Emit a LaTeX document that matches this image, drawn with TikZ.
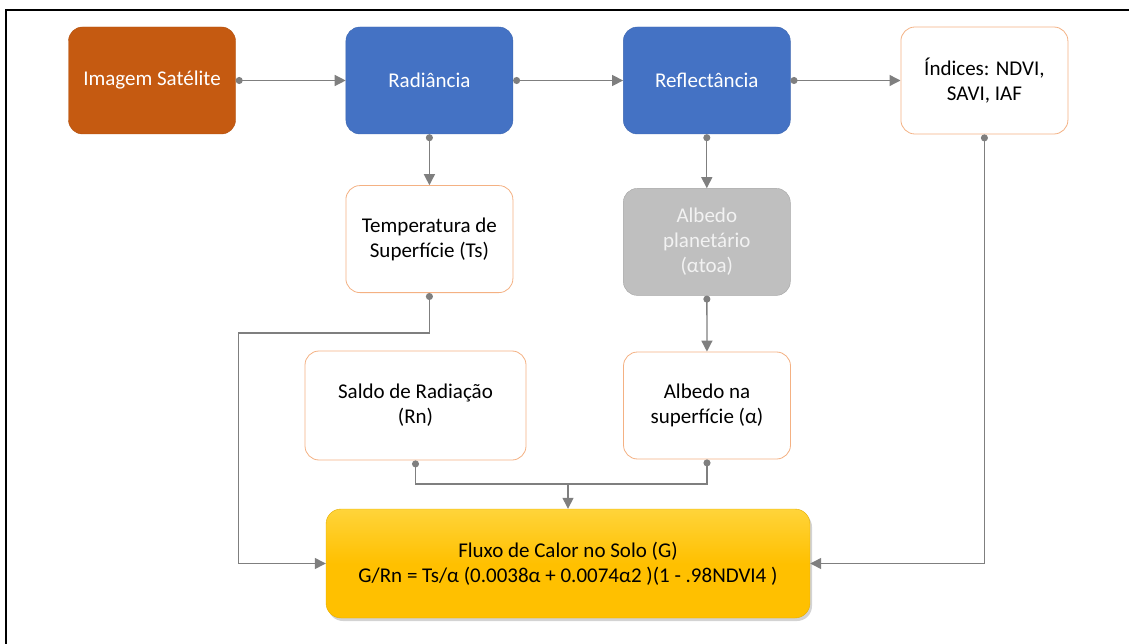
\documentclass[tikz,border=0pt]{standalone}
\usepackage{fontspec}
\setmainfont{Carlito}
\usetikzlibrary{positioning, arrows.meta, shadows}

\definecolor{laranja}{HTML}{C55A11}
\definecolor{azul}{HTML}{4472C4}
\definecolor{cinza}{HTML}{BFBFBF}
\definecolor{bordacinza}{HTML}{A5A5A5}
\definecolor{borda}{HTML}{F4B183}
\definecolor{seta}{HTML}{7F7F7F}
\definecolor{ouro}{HTML}{FFC000}
\definecolor{ourocl}{HTML}{FFD43A}

\begin{document}
\begin{tikzpicture}[x=1pt, y=-1pt, node distance = 110pt,
    caixa/.style={rectangle, rounded corners=14pt, minimum width=167pt,
      minimum height=107pt, align=center, inner sep=4pt,
      font=\fontsize{21}{25}\selectfont},
    cheia/.style={caixa, fill=#1, draw=#1!90!black, text=white},
    vazia/.style={caixa, fill=white, draw=borda, line width=0.8pt, text=black},
    linha/.style={draw=seta, line width=1.3pt, {Circle[length=7pt]}-},
    conector/.style={linha, {Circle[length=7pt]}-{Triangle[length=11pt, width=11pt]}},
    chegada/.style={draw=seta, line width=1.3pt, -{Triangle[length=11pt, width=11pt]}}]

  \useasboundingbox (0,0) rectangle (1129,644);
  \draw[line width=1.2pt] (1129,10) -- (6,10) -- (6,644);

  % linha de cima
  \node[cheia=laranja] (img) at (152,80.5) {Imagem Satélite};
  \node[cheia=azul, right=of img] (rad) {Radiância};
  \node[cheia=azul, right=of rad] (refl) {Reflectância};
  \node[vazia, right=of refl] (ind) {Índices: NDVI,\\SAVI, IAF};

  % coluna do meio
  \node[vazia, below=51pt of rad] (temp) {Temperatura de\\Superfície (Ts)};
  \node[caixa, fill=cinza, draw=bordacinza, text=white!95!black,
        below=54pt of refl] (albplan) {Albedo\\planetário\\(αtoa)};
  \node[vazia, minimum width=221pt, minimum height=109pt] (saldo) at (415.5,405.5)
        {Saldo de Radiação\\(Rn)};
  \node[vazia] (albsup) at (707,405.5) {Albedo na\\superfície (α)};

  \node[caixa, minimum width=484pt, minimum height=109pt, rounded corners=15pt,
        top color=ourocl, bottom color=ouro, middle color=ouro, draw=ouro!90!black,
        drop shadow={opacity=0.35, shadow xshift=2pt, shadow yshift=-3pt}]
        (fluxo) at (568,563.5)
        {Fluxo de Calor no Solo (G)\\G/Rn = Ts/α (0.0038α + 0.0074α2 )(1 - .98NDVI4 )};

  \coordinate (juncao) at (568,484);

  \path[conector] (img) -- (rad);
  \path[conector] (rad) -- (refl);
  \path[conector] (refl) -- (ind);
  \path[conector] (rad) -- (temp);
  \path[conector] (refl) -- (albplan);
  \path[conector] (albplan) -- (albsup);
  \path[conector] (temp.south) -- ++(0,40) -| ([xshift=-87pt]fluxo.west) -- (fluxo.west);
  \path[linha] (saldo.south) |- (juncao);
  \path[linha] (albsup.south) |- (juncao);
  \path[chegada] (juncao) -- (fluxo.north);
  \path[conector] (ind.south) |- (fluxo.east);
\end{tikzpicture}
\end{document}
